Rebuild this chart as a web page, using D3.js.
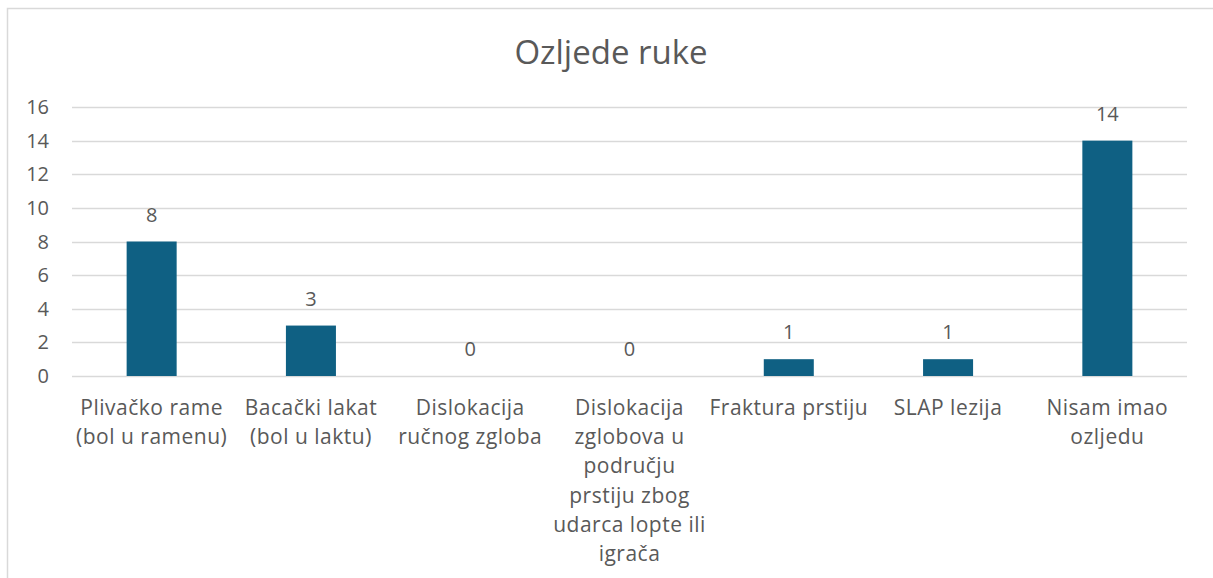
<!DOCTYPE html>
<html>
<head>
<meta charset="utf-8">
<script src="https://cdn.jsdelivr.net/npm/d3@7"></script>
<style>
  body { margin: 0; background: #fff; }
  text { font-family: "Open Sans", "Noto Sans", sans-serif; fill: #595959; }
</style>
</head>
<body>
<div id="chart"></div>
<script>
// data
var categories = [
  "Plivačko rame\n(bol u ramenu)",
  "Bacački lakat\n(bol u laktu)",
  "Dislokacija\nručnog zgloba",
  "Dislokacija\nzglobova u\npodručju\nprstiju zbog\nudarca lopte ili\nigrača",
  "Fraktura prstiju",
  "SLAP lezija",
  "Nisam imao\nozljedu"
];
var values = [8, 3, 0, 0, 1, 1, 14];
var yTicks = [0, 2, 4, 6, 8, 10, 12, 14, 16];
var title = "Ozljede ruke";

var W = 1213, H = 578;
var svg = d3.select("#chart").append("svg")
  .attr("width", W).attr("height", H);

// chart border (only top/left visible in frame)
svg.append("rect")
  .attr("x", 7.5).attr("y", 8.5)
  .attr("width", 1220).attr("height", 600)
  .attr("fill", "none")
  .attr("stroke", "#d9d9d9")
  .attr("stroke-width", 1.5);

var plot = {left: 72, right: 1187, top: 107, bottom: 376};

var x = d3.scaleBand()
  .domain(d3.range(categories.length))
  .range([plot.left, plot.right])
  .paddingInner(0.686)
  .paddingOuter(0.343);

var y = d3.scaleLinear()
  .domain([0, 16])
  .range([plot.bottom, plot.top]);

// title
svg.append("text")
  .attr("x", 611).attr("y", 64)
  .attr("text-anchor", "middle")
  .style("font-size", "33px")
  .text(title);

// gridlines
svg.append("g").selectAll("line")
  .data(yTicks)
  .join("line")
  .attr("x1", plot.left).attr("x2", plot.right)
  .attr("y1", d => Math.round(y(d)) + 0.5)
  .attr("y2", d => Math.round(y(d)) + 0.5)
  .attr("stroke", "#d9d9d9")
  .attr("stroke-width", 1.5);

// y axis labels
svg.append("g").selectAll("text")
  .data(yTicks)
  .join("text")
  .attr("x", 49)
  .attr("y", d => y(d))
  .attr("dy", "0.35em")
  .attr("text-anchor", "end")
  .style("font-size", "20px")
  .text(d => d);

// bars
svg.append("g").selectAll("rect")
  .data(values)
  .join("rect")
  .attr("x", (d, i) => x(i))
  .attr("width", x.bandwidth())
  .attr("y", d => y(d))
  .attr("height", d => y(0) - y(d))
  .attr("fill", "#0f6083");

// value labels
svg.append("g").selectAll("text")
  .data(values)
  .join("text")
  .attr("x", (d, i) => x(i) + x.bandwidth() / 2)
  .attr("y", d => y(d) - 20)
  .attr("text-anchor", "middle")
  .style("font-size", "20px")
  .text(d => d);

// category labels
var cat = svg.append("g").selectAll("text")
  .data(categories)
  .join("text")
  .attr("text-anchor", "middle")
  .style("font-size", "21px")
  .style("letter-spacing", "0.5px");

cat.each(function(d, i) {
  var cx = x(i) + x.bandwidth() / 2;
  d3.select(this).selectAll("tspan")
    .data(d.split("\n"))
    .join("tspan")
    .attr("x", cx)
    .attr("y", (t, j) => 415 + j * 29.2)
    .text(t => t);
});
</script>
</body>
</html>
